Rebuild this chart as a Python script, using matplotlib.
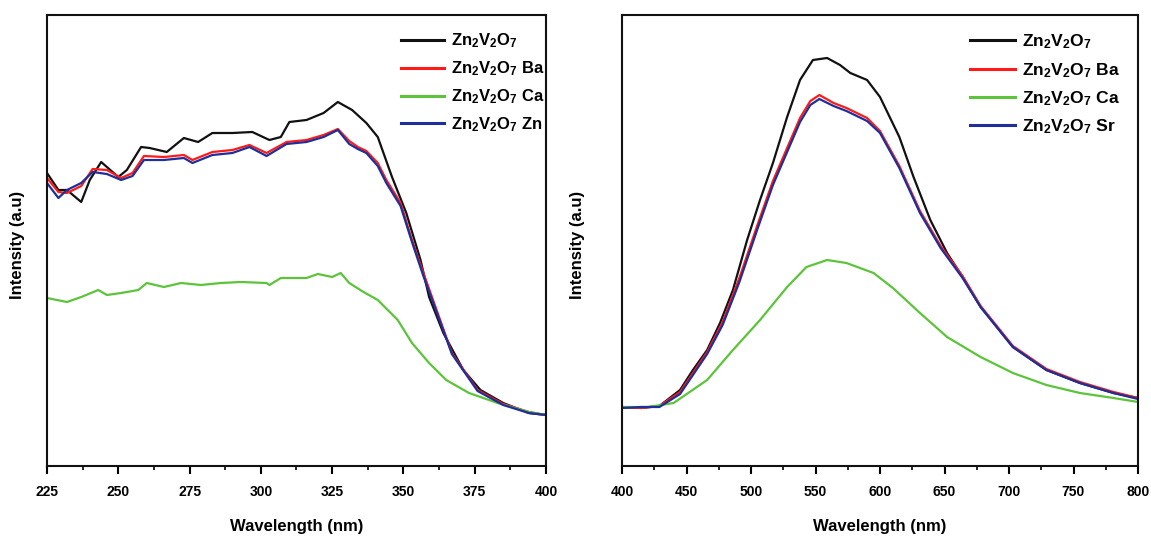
import matplotlib
matplotlib.use("Agg")
import matplotlib.pyplot as plt
from matplotlib.ticker import MultipleLocator

plt.rcParams['font.family'] = ['Liberation Sans Narrow', 'Liberation Sans', 'DejaVu Sans']
plt.rcParams['font.weight'] = 'bold'
plt.rcParams['mathtext.default'] = 'regular'

# ---------------- Left panel, wavelength in nm, intensity in a.u. ----------------
left_x_black = [225, 229, 232, 237, 240, 244, 250, 253, 258, 261, 267, 273, 278, 283, 290, 297,
                303, 307, 310, 316, 322, 327, 332, 337, 341, 346, 351, 356, 359, 364, 371, 377,
                385, 394, 400]
left_y_black = [293, 276, 276, 264, 286, 304, 289, 296, 319, 318, 314, 328, 324, 333, 333, 334,
                326, 329, 344, 346, 353, 364, 356, 343, 329, 289, 253, 206, 169, 133, 96, 76,
                63, 53, 51]

left_x_ba = [225, 229, 232, 237, 241, 246, 251, 255, 259, 266, 273, 276, 283, 290, 296, 302,
             309, 316, 322, 327, 331, 334, 337, 341, 344, 349, 353, 357, 362, 367, 376, 385,
             394, 400]
left_y_ba = [288, 274, 273, 280, 297, 296, 288, 293, 310, 309, 311, 306, 314, 316, 321, 313,
             324, 326, 331, 337, 325, 319, 315, 303, 286, 263, 226, 193, 153, 113, 76, 62,
             54, 51]

left_x_zn = [225, 229, 232, 237, 241, 246, 251, 255, 259, 266, 273, 276, 283, 290, 296, 302,
             309, 316, 322, 327, 331, 334, 337, 341, 344, 349, 353, 357, 362, 367, 376, 385,
             394, 400]
left_y_zn = [283, 268, 276, 283, 294, 292, 286, 290, 306, 306, 308, 303, 311, 313, 319, 310,
             322, 324, 329, 336, 322, 317, 313, 300, 283, 260, 224, 190, 151, 112, 75, 61,
             53, 51]

left_x_ca = [225, 232, 237, 243, 246, 251, 257, 260, 266, 272, 279, 286, 293, 302, 303, 307,
             316, 320, 325, 328, 331, 336, 341, 348, 353, 359, 365, 373, 383, 394, 400]
left_y_ca = [168, 164, 169, 176, 171, 173, 176, 183, 179, 183, 181, 183, 184, 183, 181, 188,
             188, 192, 189, 193, 183, 174, 166, 146, 123, 103, 86, 73, 63, 54, 51]

# ---------------- Right panel, wavelength in nm, intensity in a.u. ----------------
right_x_black = [400, 415, 429, 445, 455, 466, 476, 486, 497, 507, 517, 528, 538, 548, 559,
                 569, 577, 590, 600, 615, 626, 639, 652, 664, 678, 703, 729, 755, 781, 800]
right_y_black = [59, 58, 60, 76, 96, 116, 143, 176, 226, 266, 303, 349, 386, 406, 408,
                 401, 393, 386, 369, 329, 289, 246, 213, 189, 159, 119, 96, 83, 73, 68]

right_x_ba = [400, 415, 429, 445, 466, 478, 491, 505, 517, 528, 538, 546, 553, 564, 574, 590,
              600, 615, 631, 647, 664, 678, 703, 729, 755, 781, 800]
right_y_ba = [59, 58, 60, 74, 114, 144, 188, 241, 285, 318, 348, 365, 371, 363, 358, 348,
              335, 300, 255, 220, 190, 160, 120, 97, 84, 74, 68]

right_x_sr = [400, 415, 429, 445, 466, 478, 491, 505, 517, 528, 538, 546, 553, 564, 574, 590,
              600, 615, 631, 647, 664, 678, 703, 729, 755, 781, 800]
right_y_sr = [58, 59, 59, 72, 112, 141, 184, 237, 281, 314, 344, 361, 367, 360, 355, 345,
              333, 298, 253, 218, 188, 159, 119, 96, 83, 73, 67]

right_x_ca = [400, 420, 440, 466, 486, 507, 528, 543, 559, 574, 595, 610, 631, 652, 678,
              703, 729, 755, 781, 800]
right_y_ca = [59, 59, 63, 86, 116, 146, 179, 199, 206, 203, 193, 178, 153, 129, 109,
              93, 81, 73, 68, 64]

labels_left = [r'Zn$_2$V$_2$O$_7$', r'Zn$_2$V$_2$O$_7$ Ba', r'Zn$_2$V$_2$O$_7$ Ca', r'Zn$_2$V$_2$O$_7$ Zn']
labels_right = [r'Zn$_2$V$_2$O$_7$', r'Zn$_2$V$_2$O$_7$ Ba', r'Zn$_2$V$_2$O$_7$ Ca', r'Zn$_2$V$_2$O$_7$ Sr']
colors = ['#111111', '#ff1a1a', '#5cc43a', '#1f2f9a']

fig = plt.figure(figsize=(11.51, 5.37), dpi=100)
axL = fig.add_axes([47/1151, 1-466/537, 499/1151, 451/537])
axR = fig.add_axes([622/1151, 1-466/537, 516/1151, 451/537])

left_series = [(left_x_black, left_y_black), (left_x_ba, left_y_ba),
               (left_x_ca, left_y_ca), (left_x_zn, left_y_zn)]
right_series = [(right_x_black, right_y_black), (right_x_ba, right_y_ba),
                (right_x_ca, right_y_ca), (right_x_sr, right_y_sr)]

for (xs, ys), c, lab in zip(left_series, colors, labels_left):
    axL.plot(xs, ys, color=c, lw=1.6, label=lab)
for (xs, ys), c, lab in zip(right_series, colors, labels_right):
    axR.plot(xs, ys, color=c, lw=1.6, label=lab)

axL.set_xlim(225, 400)
axR.set_xlim(400, 800)
axL.xaxis.set_major_locator(MultipleLocator(25))
axL.xaxis.set_minor_locator(MultipleLocator(12.5))
axR.xaxis.set_major_locator(MultipleLocator(50))
axR.xaxis.set_minor_locator(MultipleLocator(25))

for ax, ylab_x, legx, fs in ((axL, -0.044, 1.030, 12), (axR, -0.072, 1.0, 12.6)):
    ax.set_ylim(0, 451)
    ax.set_yticks([])
    for s in ax.spines.values():
        s.set_linewidth(1.5)
        s.set_color('#111111')
    ax.tick_params(axis='x', which='major', direction='out', length=6, width=1.5,
                   labelsize=10, pad=8)
    ax.tick_params(axis='x', which='minor', direction='out', length=3, width=1.2)
    for t in ax.get_xticklabels():
        t.set_fontweight('bold')
    ax.set_xlabel('Wavelength (nm)', fontsize=12, fontweight='bold', labelpad=14)
    ax.set_ylabel('Intensity (a.u)', fontsize=12, fontweight='bold')
    ax.yaxis.set_label_coords(ylab_x, 0.49)
    leg = ax.legend(loc='upper right', bbox_to_anchor=(legx, 1.0), frameon=False,
                    handlelength=2.6, handletextpad=0.4, labelspacing=0.55,
                    borderaxespad=0.6, prop={'weight': 'bold', 'size': fs})
    for line in leg.get_lines():
        line.set_linewidth(2.2)

fig.savefig('out.png', dpi=100)
